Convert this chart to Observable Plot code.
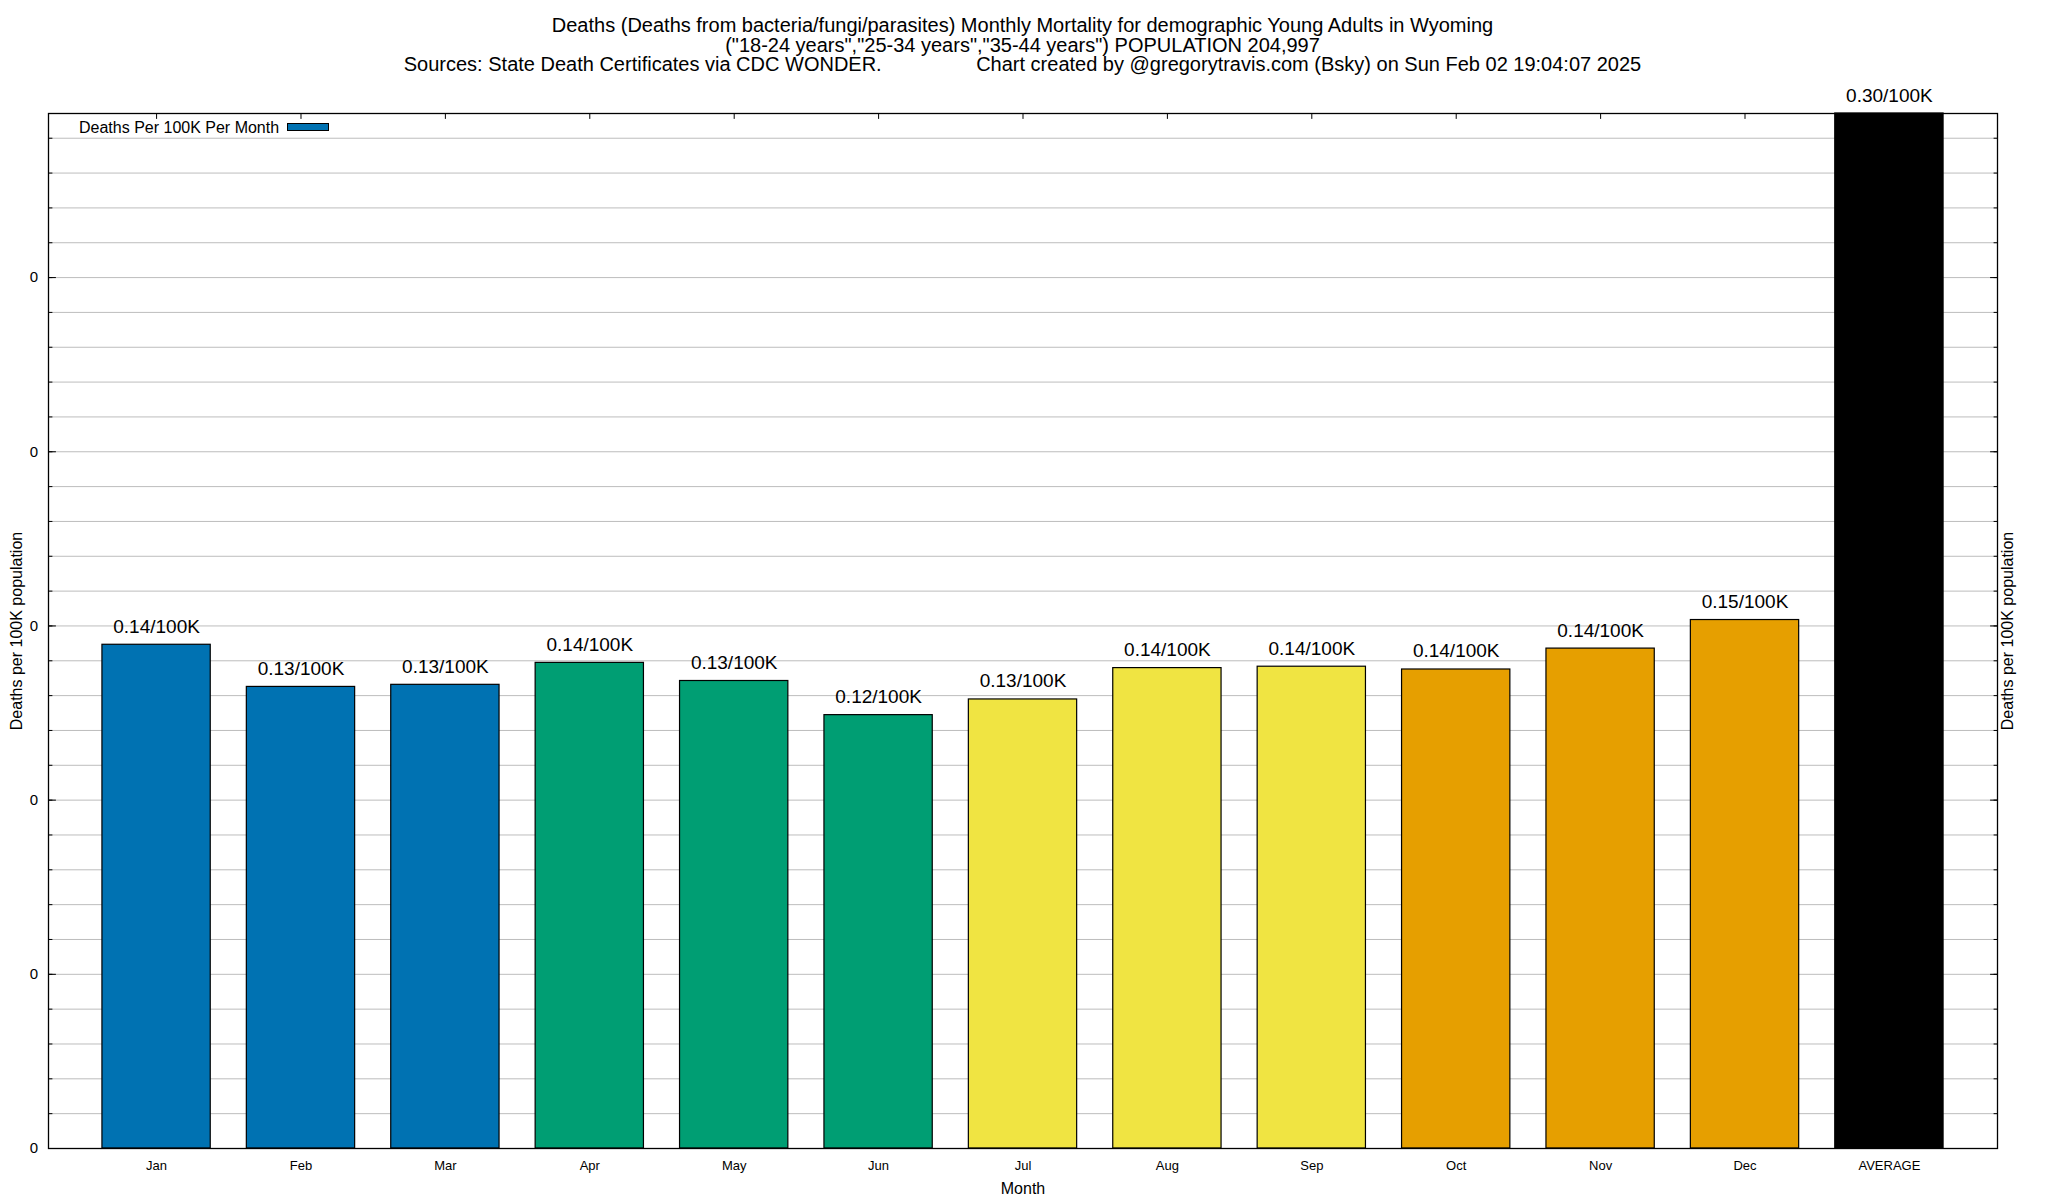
<!DOCTYPE html>
<html><head><meta charset="utf-8">
<script src="https://cdn.jsdelivr.net/npm/d3@7"></script>
<script src="https://cdn.jsdelivr.net/npm/@observablehq/plot@0.6"></script>
<style>
body{margin:0;background:#fff;font-family:"Liberation Sans",Arial,Helvetica,sans-serif;}
#wrap{position:relative;width:2048px;height:1200px;overflow:hidden;}
#chart{position:absolute;left:0;top:0;}
.t{position:absolute;left:48px;width:1949px;text-align:center;font-size:20px;line-height:1;white-space:pre;color:#000;}
#legend{position:absolute;left:79px;top:119.5px;font-size:16px;line-height:1;white-space:pre;}
#swatch{position:absolute;left:287px;top:122.7px;width:42px;height:8px;box-sizing:border-box;border:1px solid #000;background:#0072b2;}
</style></head>
<body>
<div id="wrap">
  <div id="chart"></div>
  <div class="t" style="top:15px">Deaths (Deaths from bacteria/fungi/parasites) Monthly Mortality for demographic Young Adults in Wyoming</div>
  <div class="t" style="top:34.7px">("18-24 years","25-34 years","35-44 years") POPULATION 204,997</div>
  <div class="t" style="top:54.3px">Sources: State Death Certificates via CDC WONDER.                 Chart created by @gregorytravis.com (Bsky) on Sun Feb 02 19:04:07 2025</div>
  <div id="legend">Deaths Per 100K Per Month</div>
  <div id="swatch"></div>
</div>
<script>
const months = ["Jan","Feb","Mar","Apr","May","Jun","Jul","Aug","Sep","Oct","Nov","Dec","AVERAGE"];
const values = [0.1446,0.1325,0.1331,0.1394,0.1342,0.1244,0.1289,0.1379,0.1383,0.1375,0.1435,0.1517,0.2971];
const barColors = ["#0072b2","#0072b2","#0072b2","#009e73","#009e73","#009e73","#f0e442","#f0e442","#f0e442","#e69f00","#e69f00","#e69f00","#000000"];
const yMax = 0.2971;
const yMajorTicks = [0,0.05,0.10,0.15,0.20,0.25];
const yMinorTicks = [0,0.01,0.02,0.03,0.04,0.05,0.06,0.07,0.08,0.09,0.10,0.11,0.12,0.13,0.14,0.15,0.16,0.17,0.18,0.19,0.20,0.21,0.22,0.23,0.24,0.25,0.26,0.27,0.28,0.29];
const yTitle = "Deaths per 100K population";
const xTitle = "Month";

const data = months.map((m,i)=>({month:m, value:values[i], color:barColors[i]}));
const tickShape = {draw(ctx, l){ ctx.moveTo(0,0); ctx.lineTo(0,-l); }};
const font = "Liberation Sans, Arial, Helvetica, sans-serif";

const chart = Plot.plot({
  width: 2048, height: 1200,
  marginTop: 113, marginBottom: 52, marginLeft: 48, marginRight: 51,
  style: {fontFamily: font, background: "white", color: "black"},
  x: {type: "band", domain: months, paddingInner: 0.25, paddingOuter: 0.3735, round: false, axis: null},
  y: {domain: [0, yMax], axis: null},
  color: {type: "identity"},
  marks: [
    Plot.gridY(yMinorTicks, {stroke: "#bdbdbd", strokeOpacity: 1, strokeWidth: 1}),
    Plot.vector(yMinorTicks, {y: d=>d, frameAnchor: "left", rotate: 90, length: 3.5, anchor: "start", shape: tickShape, stroke: "black", strokeWidth: 1}),
    Plot.vector(yMajorTicks, {y: d=>d, frameAnchor: "left", rotate: 90, length: 7, anchor: "start", shape: tickShape, stroke: "black", strokeWidth: 1}),
    Plot.vector(yMinorTicks, {y: d=>d, frameAnchor: "right", rotate: -90, length: 3.5, anchor: "start", shape: tickShape, stroke: "black", strokeWidth: 1}),
    Plot.vector(yMajorTicks, {y: d=>d, frameAnchor: "right", rotate: -90, length: 7, anchor: "start", shape: tickShape, stroke: "black", strokeWidth: 1}),
    Plot.vector(months, {x: d=>d, frameAnchor: "top", rotate: 180, length: 5, anchor: "start", shape: tickShape, stroke: "black", strokeWidth: 1}),
    Plot.barY(data, {x: "month", y: "value", fill: "color", stroke: "black", strokeWidth: 1.2}),
    Plot.frame({stroke: "black", strokeWidth: 1.3}),
    Plot.text(data, {x: "month", y: "value", text: d => d.value.toFixed(2) + "/100K", dy: -12, lineAnchor: "bottom", fontSize: 19, fill: "black"}),
    Plot.axisX({tickSize: 0, tickPadding: 12, fontSize: 13, label: null}),
    Plot.axisY(yMajorTicks, {tickSize: 0, tickPadding: 10.5, tickFormat: d3.format(".0f"), fontSize: 15, label: null}),
    Plot.text([yTitle], {text: d=>d, frameAnchor: "left", rotate: -90, dx: -31.5, fontSize: 16, textAnchor: "middle", lineAnchor: "middle", fill: "black"}),
    Plot.text([yTitle], {text: d=>d, frameAnchor: "right", rotate: -90, dx: 10.8, fontSize: 16, textAnchor: "middle", lineAnchor: "middle", fill: "black"}),
    Plot.text([xTitle], {text: d=>d, frameAnchor: "bottom", dy: 40, fontSize: 16, lineAnchor: "middle", fill: "black"})
  ]
});
document.getElementById("chart").appendChild(chart);
</script>
</body></html>
